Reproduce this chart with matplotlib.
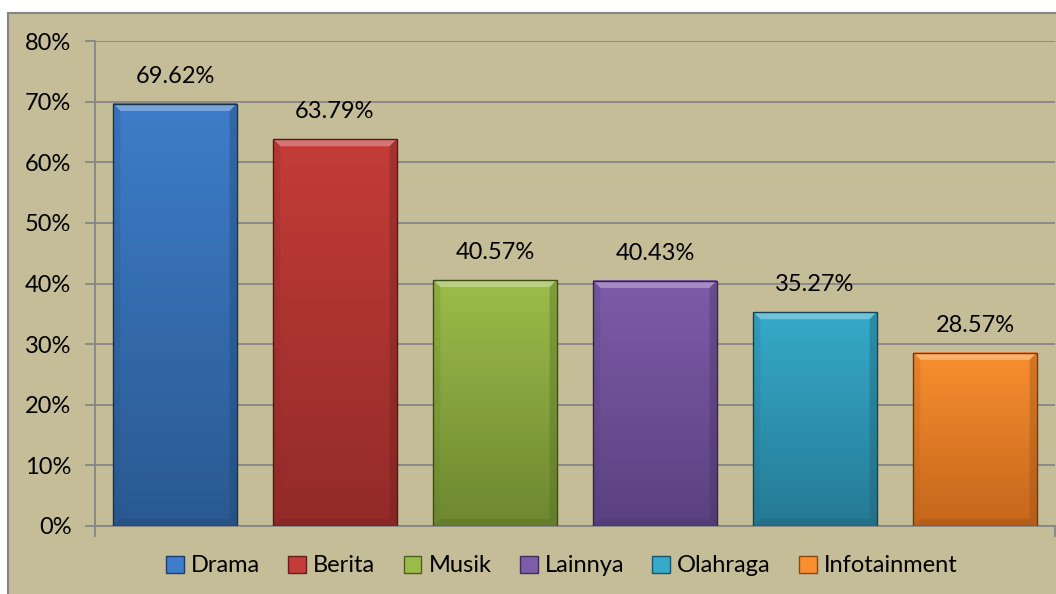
import matplotlib.pyplot as plt
import numpy as np
from matplotlib.colors import LinearSegmentedColormap, to_rgb
from matplotlib.patches import Rectangle, Polygon
from matplotlib.ticker import PercentFormatter

categories = ['Drama', 'Berita', 'Musik', 'Lainnya', 'Olahraga', 'Infotainment']
values = [69.62, 63.79, 40.57, 40.43, 35.27, 28.57]
top_colors = ['#3E7DCA', '#C43C38', '#9CBC4A', '#7E5CA8', '#36AACA', '#F98F30']
bottom_colors = ['#2A5990', '#922B29', '#6D8830', '#5A4180', '#257A94', '#C4661C']

bg = '#C4BD97'
grid = '#868686'
fs = 17
plt.rcParams['font.family'] = ['Lato', 'DejaVu Sans']

fig = plt.figure(figsize=(10.56, 5.94), dpi=100, facecolor='white')
# chart area frame
fig.patches.append(Rectangle((8 / 1056, -0.01), 1.0, 1 - 13 / 594 + 0.01, transform=fig.transFigure,
                             facecolor=bg, edgecolor=grid, lw=1.5, zorder=-5))

ax = fig.add_axes([95 / 1056, 1 - 526 / 594, 960 / 1056, 485 / 594])
ax.set_facecolor('none')
ax.set_zorder(2)

x = np.arange(len(categories))
width = 0.77
vals = np.array(values) / 100
bars = ax.bar(x, vals, width=width, color='none', edgecolor='none', zorder=3)

def lighten(c, f):
    r = np.array(to_rgb(c))
    return tuple(r + (1 - r) * f)

def darken(c, f):
    return tuple(np.array(to_rgb(c)) * (1 - f))

ypix = 0.1 / 60.6
xpix = 1 / 160.5
for i, b in enumerate(bars):
    x0, w, h = b.get_x(), b.get_width(), b.get_height()
    cmap = LinearSegmentedColormap.from_list('g', [top_colors[i], bottom_colors[i]])
    grad = np.linspace(0, 1, 256).reshape(-1, 1)
    ax.imshow(grad, extent=[x0, x0 + w, 0, h], origin='upper', cmap=cmap, aspect='auto', zorder=3,
              interpolation='bicubic')
    bw, bh = 7 * xpix, 7 * ypix
    # bevel edges
    ax.add_patch(Polygon([[x0, h], [x0 + w, h], [x0 + w - bw, h - bh], [x0 + bw, h - bh]],
                         facecolor=lighten(top_colors[i], 0.3), edgecolor='none', zorder=4))
    ax.add_patch(Polygon([[x0, 0], [x0 + w, 0], [x0 + w - bw, bh], [x0 + bw, bh]],
                         facecolor=darken(bottom_colors[i], 0.12), edgecolor='none', zorder=4, alpha=0.6))
    ax.add_patch(Polygon([[x0, 0], [x0, h], [x0 + bw, h - bh], [x0 + bw, bh]],
                         facecolor=darken(bottom_colors[i], 0.05), edgecolor='none', zorder=4, alpha=0.25))
    ax.add_patch(Polygon([[x0 + w, 0], [x0 + w, h], [x0 + w - bw, h - bh], [x0 + w - bw, bh]],
                         facecolor=darken(bottom_colors[i], 0.2), edgecolor='none', zorder=4, alpha=0.4))
    ax.add_patch(Rectangle((x0, 0), w, h, facecolor='none', edgecolor=darken(bottom_colors[i], 0.45),
                           lw=1, zorder=5))
    ax.text(b.get_x() + w / 2, h + 0.045, f'{values[i]:.2f}%', ha='center', va='center',
            fontsize=fs, color='black', zorder=6)

ax.set_xlim(-0.5, len(categories) - 0.5)
ax.set_ylim(0, 0.8)
ax.set_yticks(np.arange(0, 0.81, 0.1))
ax.yaxis.set_major_formatter(PercentFormatter(1.0, decimals=0))
ax.yaxis.grid(True, color=grid, lw=1.3, zorder=1)
ax.set_axisbelow(True)
ax.set_xticks([-0.5, len(categories) - 0.5])
ax.set_xticklabels([])
ax.tick_params(axis='x', length=8, color=grid, width=1.3)
ax.tick_params(axis='y', length=7, color=grid, width=1.3, labelsize=fs, pad=10)
for s in ['top', 'right']:
    ax.spines[s].set_visible(False)
for s in ['left', 'bottom']:
    ax.spines[s].set_color(grid)
    ax.spines[s].set_linewidth(1.3)

handles = [Rectangle((0, 0), 1, 1, facecolor=top_colors[i], edgecolor=darken(bottom_colors[i], 0.3))
           for i in range(len(categories))]
fig.legend(handles, categories, loc='center', bbox_to_anchor=(562 / 1056, 1 - 566 / 594), ncol=6,
           frameon=False, fontsize=fs, handlelength=0.75, handleheight=0.75, handletextpad=0.3,
           columnspacing=1.2)

fig.savefig('out.png', dpi=100, facecolor=fig.get_facecolor())
